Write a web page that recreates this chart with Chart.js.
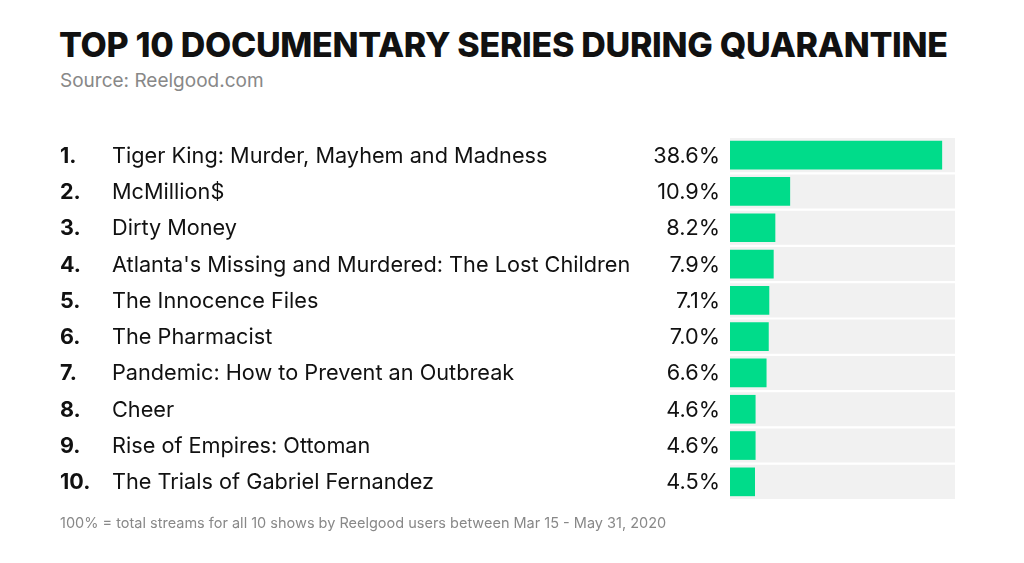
<!DOCTYPE html>
<html><head><meta charset="utf-8">
<script src="https://cdn.jsdelivr.net/npm/chart.js@4"></script>
<style>
body{margin:0;background:#fff;font-family:Inter,"Noto Sans",sans-serif;}
#wrap{position:relative;width:1024px;height:563px;}
h1{position:absolute;left:59px;top:24px;margin:0;font-size:34px;font-weight:800;color:#111;letter-spacing:-0.3px;}
.src{position:absolute;left:60px;top:69px;font-size:19px;color:#888;}
.note{position:absolute;left:60px;top:514px;font-size:14.5px;color:#888;}
canvas{position:absolute;left:0;top:0;}
</style></head><body>
<div id="wrap">
<h1>TOP 10 DOCUMENTARY SERIES DURING QUARANTINE</h1>
<div class="src">Source: Reelgood.com</div>
<canvas id="c" width="1024" height="563"></canvas>
<div class="note">100% = total streams for all 10 shows by Reelgood users between Mar 15 - May 31, 2020</div>
</div>
<script>
const titles = ["Tiger King: Murder, Mayhem and Madness","McMillion$","Dirty Money","Atlanta's Missing and Murdered: The Lost Children","The Innocence Files","The Pharmacist","Pandemic: How to Prevent an Outbreak","Cheer","Rise of Empires: Ottoman","The Trials of Gabriel Fernandez"];
const shares = [38.6,10.9,8.2,7.9,7.1,7.0,6.6,4.6,4.6,4.5];
const track = titles.map(() => 41);

const rowLabels = {
  id: "rowLabels",
  afterDatasetsDraw(chart) {
    const c = chart.ctx, y = chart.scales.y;
    c.save();
    c.fillStyle = "#111";
    c.textBaseline = "middle";
    titles.forEach((t, i) => {
      const py = y.getPixelForValue(i) + 1;
      c.font = "bold 21.5px Inter, sans-serif";
      c.textAlign = "left";
      c.fillText((i + 1) + ".", 60, py);
      c.font = "21.7px Inter, sans-serif";
      c.fillText(t, 112, py);
      c.textAlign = "right";
      c.fillText(shares[i].toFixed(1) + "%", 720, py);
    });
    c.restore();
  }
};

new Chart(document.getElementById("c"), {
  type: "bar",
  data: {
    labels: titles,
    datasets: [
      { data: shares, backgroundColor: "#00dc8a", barThickness: 28, grouped: false, order: 0 },
      { data: track, backgroundColor: "#f1f1f1", barPercentage: 0.94, categoryPercentage: 1, grouped: false, order: 1 }
    ]
  },
  options: {
    indexAxis: "y",
    responsive: false,
    animation: false,
    layout: { padding: { left: 730, right: 69, top: 137, bottom: 63 } },
    scales: {
      x: { display: false, min: 0, max: 41 },
      y: { display: false }
    },
    plugins: { legend: { display: false }, tooltip: { enabled: false } }
  },
  plugins: [rowLabels]
});
</script>
</body></html>
